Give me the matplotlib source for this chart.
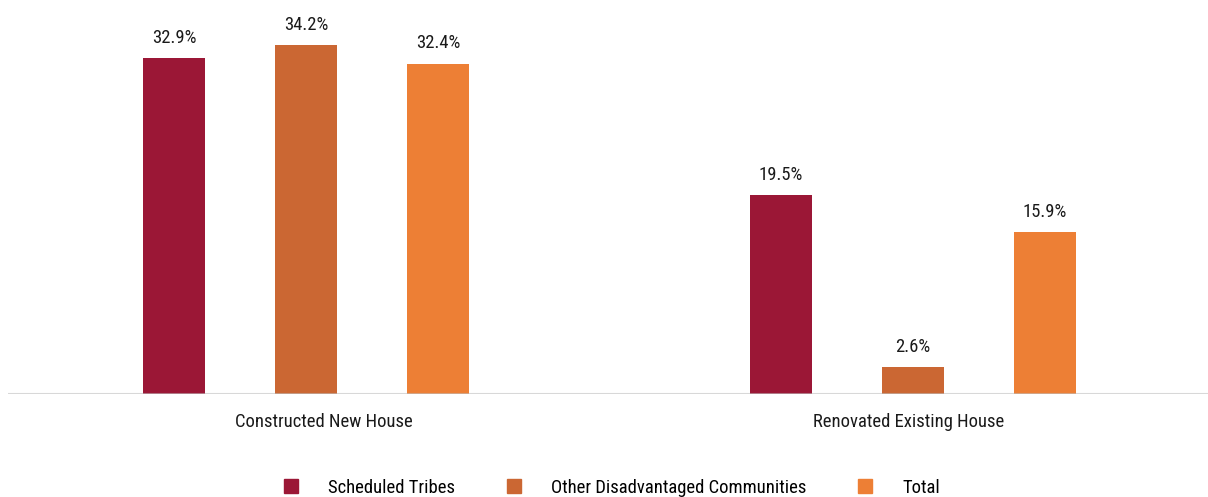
import matplotlib
matplotlib.use("Agg")
import matplotlib.pyplot as plt
from matplotlib import font_manager
from matplotlib.lines import Line2D
import numpy as np

# Data
categories = ["Constructed New House", "Renovated Existing House"]
series_names = ["Scheduled Tribes", "Other Disadvantaged Communities", "Total"]
scheduled_tribes = [32.9, 19.5]
other_disadvantaged = [34.2, 2.6]
total = [32.4, 15.9]

colors = ["#9B1736", "#CB6733", "#ED7F35"]

available = {f.name for f in font_manager.fontManager.ttflist}
family = "Roboto Condensed" if "Roboto Condensed" in available else "Roboto"
plt.rcParams["font.family"] = [family, "DejaVu Sans"]
FS = 13.4

W, H = 1208, 497
fig = plt.figure(figsize=(W / 100, H / 100), dpi=100)
ax = fig.add_axes([8 / W, 103 / H, 1200 / W, 394 / H])

x = np.arange(len(categories))
offset = 132 / 607
width = 62 / 607
series = [scheduled_tribes, other_disadvantaged, total]

for i, (vals, name, col) in enumerate(zip(series, series_names, colors)):
    pos = x + (i - 1) * offset
    bars = ax.bar(pos, vals, width=width, color=col, label=name, zorder=2)
    for b, v in zip(bars, vals):
        ax.annotate(f"{v:.1f}%", (b.get_x() + b.get_width() / 2, v),
                    xytext=(0, 11), textcoords="offset points",
                    ha="center", va="baseline", fontsize=FS, color="#1a1a1a")

ax.set_xlim(-298 / 607, 902 / 607)
ax.set_ylim(0, 394 / 10.2)

ax.axhline(0, color="#BFBFBF", lw=2.2, alpha=0.6, zorder=3)

for s in ax.spines.values():
    s.set_visible(False)
ax.set_yticks([])
ax.set_xticks(x + np.array([0.029, -0.007]))
ax.set_xticklabels(categories, fontsize=FS, color="#1a1a1a")
ax.tick_params(axis="x", length=0, pad=14)

handles = [Line2D([0], [0], marker="s", linestyle="none", markersize=10,
                  markerfacecolor=c, markeredgecolor=c) for c in colors]
fig.legend(handles, series_names, loc="center", bbox_to_anchor=(610 / W, 9 / H),
           ncol=3, frameon=False, fontsize=FS, handlelength=1.2,
           handletextpad=1.4, columnspacing=2.55, borderpad=0, borderaxespad=0)

fig.savefig("out.png", dpi=100)
